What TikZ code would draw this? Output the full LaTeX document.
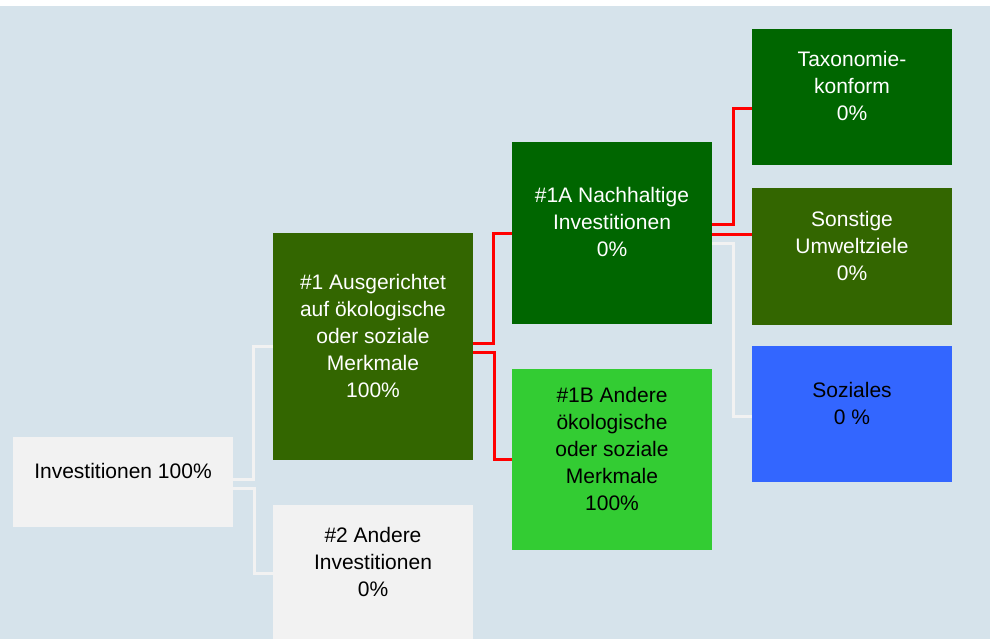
\documentclass[tikz,border=0pt]{standalone}
\usepackage{fontspec}
\setmainfont{Liberation Sans}
\usepackage{xcolor}
\usepackage{tikz}
\usetikzlibrary{shapes,arrows,calc}
\definecolor{bgBL}{HTML}{D6E3EB}
\definecolor{boxGY}{HTML}{F2F2F2}
\definecolor{boxOL}{HTML}{336600}
\definecolor{boxDG}{HTML}{006600}
\definecolor{boxLG}{HTML}{33CC33}
\definecolor{boxBL}{HTML}{3366FF}
\tikzstyle{block} = [rectangle, minimum width=200pt, inner sep=0pt, align=center, text depth=22pt]
\tikzstyle{blockGY} = [block, fill=boxGY, text=black]
\tikzstyle{blockOL} = [block, fill=boxOL, text=white]
\tikzstyle{blockDG} = [block, fill=boxDG, text=white]
\tikzstyle{blockLG} = [block, fill=boxLG, text=black]
\tikzstyle{blockBL} = [block, fill=boxBL, text=black]
\tikzstyle{lineW} = [draw, boxGY, line width=3pt]
\tikzstyle{lineR} = [draw, red, line width=3pt]

\begin{document}
\begin{tikzpicture}[x=1pt, y=-1pt,
  font=\fontsize{21}{27}\selectfont
  ]
  \useasboundingbox (0,0) rectangle (993,639);
  \fill [bgBL] (0,6) rectangle (990,639);

    % nodes
    \node [blockGY, minimum width=220pt, minimum height=90pt] (invest) at (123,482) {Investitionen 100\%};
    \node [blockOL, minimum height=227pt] (ausger) at (373,346.5) {\#1 Ausgerichtet\\auf ökologische\\oder soziale\\Merkmale\\100\%};
    \node [blockGY, minimum height=136pt] (andere_inv) at (373,573) {\#2 Andere\\Investitionen\\0\%};
    \node [blockDG, minimum height=182pt] (nachh) at (612,233) {\#1A Nachhaltige\\Investitionen\\0\%};
    \node [blockLG, minimum height=181pt] (andere_oek) at (612,459.5) {\#1B Andere\\ökologische\\oder soziale\\Merkmale\\100\%};
    \node [blockDG, minimum height=136pt] (taxo) at (852,97) {Taxonomie-\\konform\\0\%};
    \node [blockOL, minimum height=137pt] (umwelt) at (852,256.5) {Sonstige\\Umweltziele\\0\%};
    \node [blockBL, minimum height=136pt] (sozial) at (852,414) {Soziales\\0 \%};

    % edges
    \path [lineW] ([yshift=3pt]invest.east) -- ++(20,0) |- (ausger.west);
    \path [lineW] ([yshift=-6pt]invest.east) -- ++(21,0) |- (andere_inv.west);
    \path [lineR] ([yshift=3.5pt]ausger.east) -- ++(20,0) |- (nachh.west);
    \path [lineR] ([yshift=-5.5pt]ausger.east) -- ++(21,0) |- (andere_oek.west);
    \path [lineR] ([yshift=8pt]nachh.east) -- ++(21,0) |- ([yshift=-12pt]taxo.west);
    \path [lineR] ([yshift=-1pt]nachh.east) -- ([yshift=-1pt]nachh.east -| umwelt.west);
    \path [lineW] ([yshift=-10pt]nachh.east) -- ++(21,0) |- ([yshift=-2pt]sozial.west);

  \end{tikzpicture}
\end{document}
